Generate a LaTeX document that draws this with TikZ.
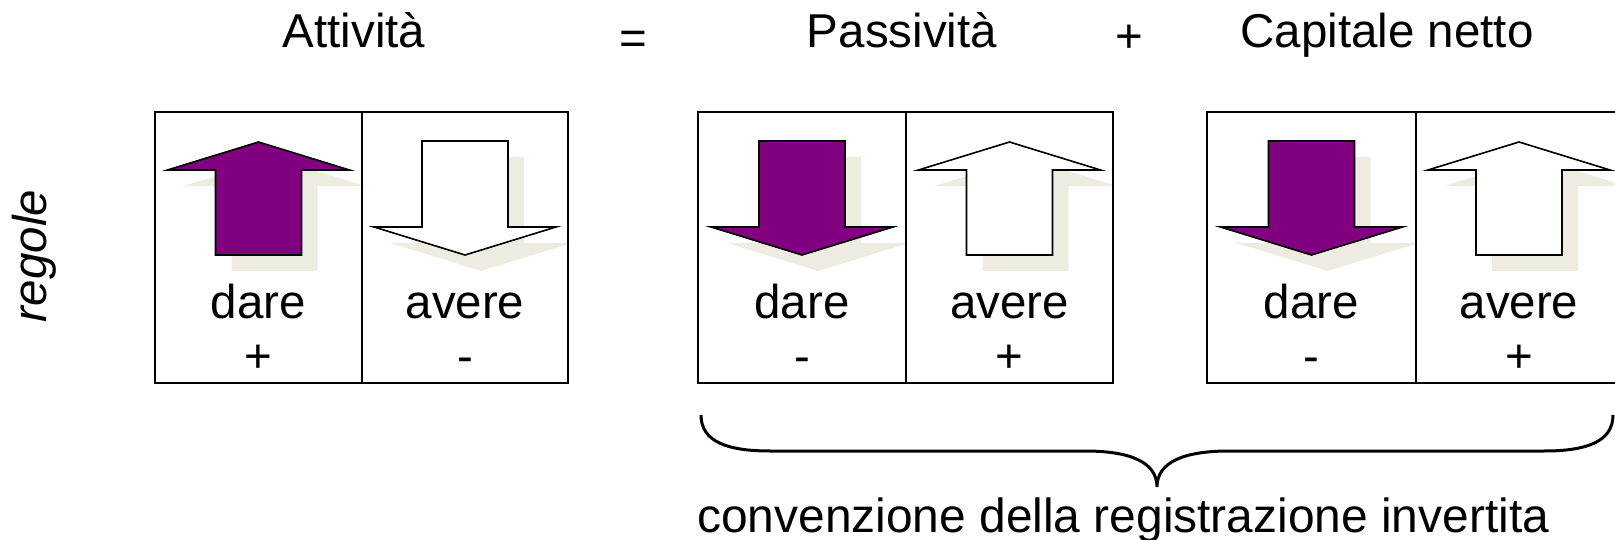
\documentclass[tikz,border=0pt]{standalone}
\usepackage{fontspec}
\setmainfont{Liberation Sans}
\definecolor{arrowpurple}{RGB}{128,0,128}
\definecolor{shadowbeige}{RGB}{238,235,224}
\tikzset{
  lbl/.style={font=\fontsize{47.5}{57}\selectfont, inner sep=0pt, anchor=base},
  cellbox/.style={draw=black, line width=2.5pt},
  arrowline/.style={draw=black, line width=1.6pt, line join=miter},
  bracelin/.style={draw=black, line width=3pt},
}
\newcommand\arrowUpShape[2]{%
  \fill[shadowbeige, shift={(#1+16,16)}] (0,142) -- (91,170) -- (43,170) -- (43,255) -- (-43,255) -- (-43,170) -- (-91,170) -- cycle;
  \path[arrowline, fill=#2, shift={(#1,0)}] (0,142) -- (91,170) -- (43,170) -- (43,255) -- (-43,255) -- (-43,170) -- (-91,170) -- cycle;
}
\newcommand\arrowDownShape[2]{%
  \fill[shadowbeige, shift={(#1+16,16)}] (0,255) -- (91,227) -- (43,227) -- (43,141) -- (-43,141) -- (-43,227) -- (-91,227) -- cycle;
  \path[arrowline, fill=#2, shift={(#1,0)}] (0,255) -- (91,227) -- (43,227) -- (43,141) -- (-43,141) -- (-43,227) -- (-91,227) -- cycle;
}
\begin{document}
\begin{tikzpicture}[x=1pt, y=-1pt]
\useasboundingbox (0,0) rectangle (1615,540);

% titles
\node[lbl] (tAtt) at (354,48) {Attività};
\node[lbl] (tEq) at (633,55) {=};
\node[lbl] (tPass) at (902,48) {Passività};
\node[lbl] (tPlus) at (1129,53) {+};
\node[lbl] (tCap) at (1387,48) {Capitale netto};

% side label
\node[lbl, font=\fontsize{47.5}{57}\selectfont\itshape, rotate=90, anchor=center] (reg) at (34,256) {regole};

% arrows
\arrowUpShape{258.5}{arrowpurple}
\arrowDownShape{465}{white}
\arrowDownShape{802}{arrowpurple}
\arrowUpShape{1009.5}{white}
\arrowDownShape{1311.5}{arrowpurple}
\arrowUpShape{1519}{white}

% boxes
\draw[cellbox] (155,112) rectangle (362,383);
\draw[cellbox] (362,112) rectangle (568,383);
\draw[cellbox] (698,112) rectangle (906,383);
\draw[cellbox] (906,112) rectangle (1113,383);
\draw[cellbox] (1207,112) rectangle (1416,383);
\draw[cellbox] (1416,112) rectangle (1624,383);

% cell labels
\node[lbl] (d1) at (258.5,318) {dare};
\node[lbl] (s1) at (258.5,372) {+};
\node[lbl] (a1) at (465,318) {avere};
\node[lbl] (s2) at (465,372) {-};
\node[lbl] (d2) at (802,318) {dare};
\node[lbl] (s3) at (802,372) {-};
\node[lbl] (a2) at (1009.5,318) {avere};
\node[lbl] (s4) at (1009.5,372) {+};
\node[lbl] (d3) at (1311.5,318) {dare};
\node[lbl] (s5) at (1311.5,372) {-};
\node[lbl] (a3) at (1519,318) {avere};
\node[lbl] (s6) at (1519,372) {+};

% brace
\coordinate (bl) at (701,415);
\coordinate (bm) at (1157,487);
\coordinate (br) at (1613,415);
\draw[bracelin] (bl) .. controls (701,442) and (728,451) .. (770,451) -- (1085,451)
  .. controls (1130,451) and (1157,462) .. (bm)
  .. controls (1157,462) and (1184,451) .. (1229,451) -- (1544,451)
  .. controls (1586,451) and (1613,442) .. (br);
\node[lbl, font=\fontsize{47.9}{57}\selectfont, anchor=base west] (conv) at (697,532) {convenzione della registrazione invertita};
\end{tikzpicture}
\end{document}
